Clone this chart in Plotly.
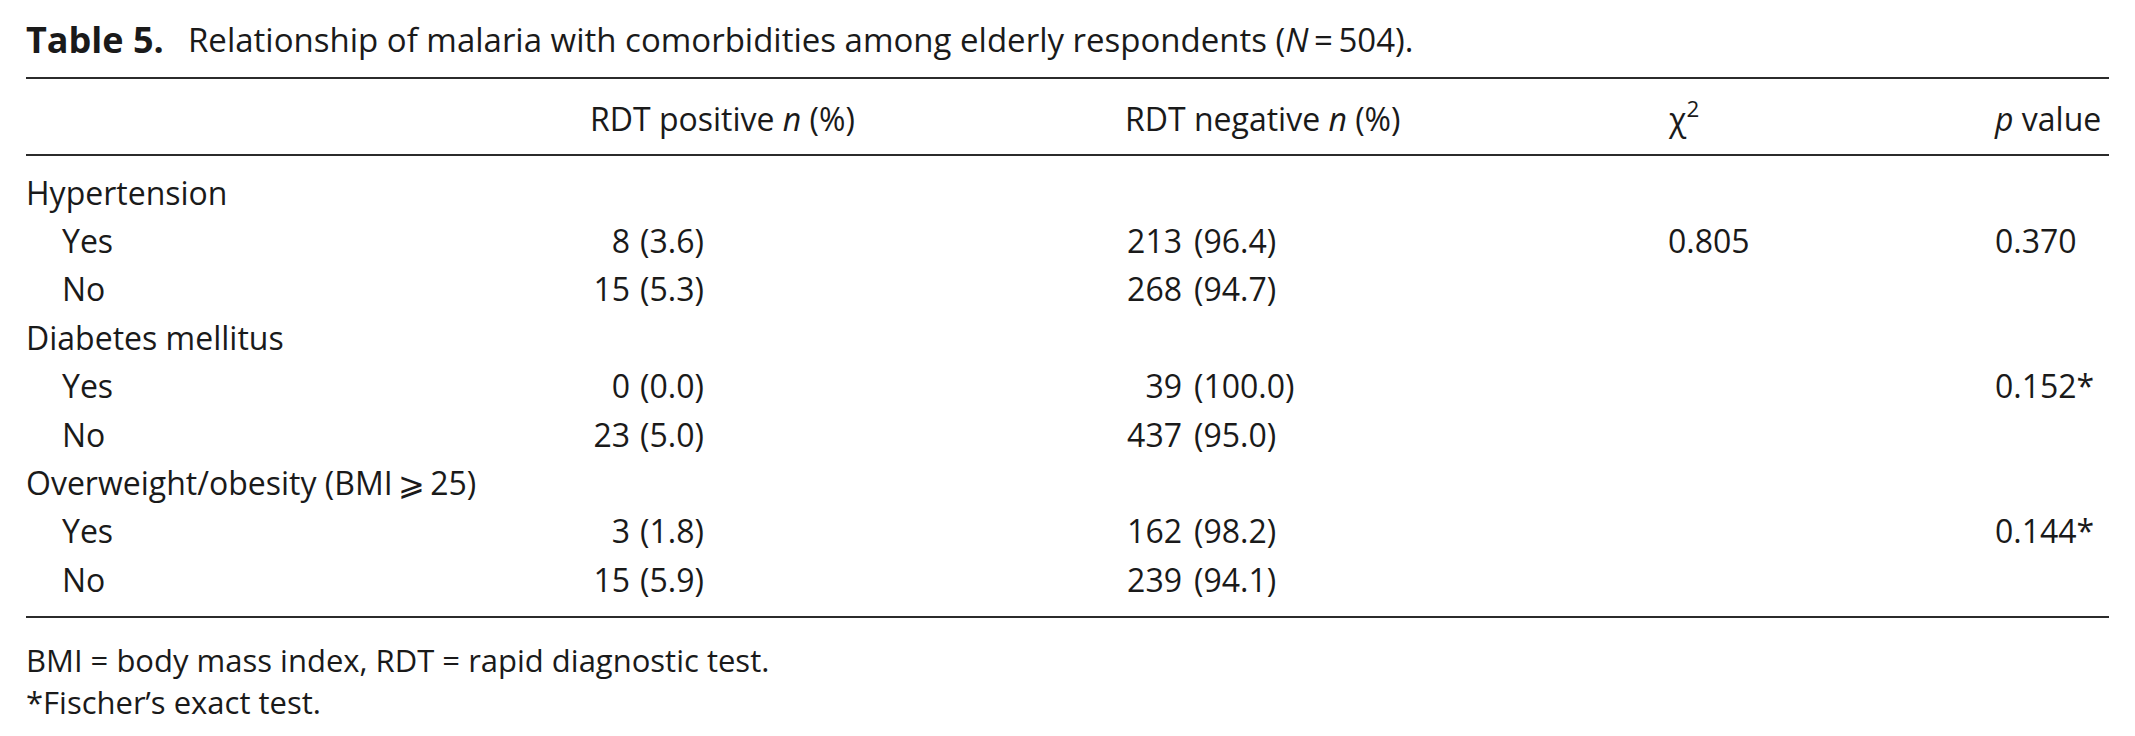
import plotly.graph_objects as go

# ---------------- data ----------------
title_label = "Table 5."
title_text = "Relationship of malaria with comorbidities among elderly respondents (<i>N</i>\u2009=\u2009504)."
headers = ["RDT positive <i>n</i> (%)", "RDT negative <i>n</i> (%)", "\u03c7<sup>2</sup>", "<i>p</i> value"]

groups = ["Hypertension", "Diabetes mellitus", "Overweight/obesity (BMI\u2009\u2a7e\u200925)"]
levels = ["Yes", "No"]

pos_n = [8, 15, 0, 23, 3, 15]
pos_pct = [3.6, 5.3, 0.0, 5.0, 1.8, 5.9]
neg_n = [213, 268, 39, 437, 162, 239]
neg_pct = [96.4, 94.7, 100.0, 95.0, 98.2, 94.1]
chi2 = ["0.805", "", "", "", "", ""]
p_values = ["0.370", "", "0.152*", "", "0.144*", ""]

footnotes = ["BMI = body mass index, RDT = rapid diagnostic test.", "*Fischer\u2019s exact test."]

# ---------------- layout constants ----------------
W, H = 2135, 736
FONT = "Open Sans"
FS = 32
INK = "#1a1a1a"
RULE = "#2b2b2b"
X_LEFT, X_RIGHT = 26, 2109
X_INDENT = 62
X_POS_N, X_POS_P = 630, 640
X_NEG_N, X_NEG_P = 1182, 1194
X_CHI, X_PV = 1668, 1995
HEAD_X = [590, 1125, 1669, 1995]
Y_TITLE = 43.5
Y_TOP_RULE, Y_HEAD, Y_HEAD_RULE = 78, 122.5, 155
Y_ROW0, PITCH = 196.5, 48.4
Y_BOTTOM_RULE = 617
Y_FOOT = [664, 706]

# build row table
row_labels, row_x, row_y = [], [], []
data_rows = []
r = 0
for g in groups:
    row_labels.append(g); row_x.append(X_LEFT); row_y.append(Y_ROW0 + PITCH * r); r += 1
    for lv in levels:
        row_labels.append(lv); row_x.append(X_INDENT); row_y.append(Y_ROW0 + PITCH * r)
        data_rows.append(Y_ROW0 + PITCH * r)
        r += 1

fig = go.Figure()

def text_trace(xs, ys, texts, pos, size=FS):
    keep = [(x, y, t) for x, y, t in zip(xs, ys, texts) if t != ""]
    fig.add_trace(go.Scatter(
        x=[k[0] for k in keep], y=[k[1] for k in keep], text=[k[2] for k in keep],
        mode="text", textposition=pos,
        textfont=dict(family=FONT, size=size, color=INK),
        hoverinfo="skip", showlegend=False, cliponaxis=False))

# title
text_trace([X_LEFT], [Y_TITLE], ["<b>" + title_label + "</b>"], "middle right", size=36)
text_trace([188], [Y_TITLE], [title_text], "middle right", size=33)

# header
text_trace(HEAD_X, [Y_HEAD] * 4, headers, "middle right")

# row labels
text_trace(row_x, row_y, row_labels, "middle right")

# values
text_trace([X_POS_N] * 6, data_rows, [str(v) for v in pos_n], "middle left")
text_trace([X_POS_P] * 6, data_rows, ["(%.1f)" % v for v in pos_pct], "middle right")
text_trace([X_NEG_N] * 6, data_rows, [str(v) for v in neg_n], "middle left")
text_trace([X_NEG_P] * 6, data_rows, ["(%.1f)" % v for v in neg_pct], "middle right")
text_trace([X_CHI] * 6, data_rows, chi2, "middle right")
text_trace([X_PV] * 6, data_rows, p_values, "middle right")

# footnotes
text_trace([X_LEFT] * 2, Y_FOOT, footnotes, "middle right", size=31)

# rules
for yy in (Y_TOP_RULE, Y_HEAD_RULE, Y_BOTTOM_RULE):
    fig.add_shape(type="line", xref="x", yref="y", x0=X_LEFT, x1=X_RIGHT, y0=yy, y1=yy,
                  line=dict(color=RULE, width=2.2))

fig.update_layout(
    width=W, height=H, margin=dict(l=0, r=0, t=0, b=0),
    paper_bgcolor="white", plot_bgcolor="white",
    xaxis=dict(range=[0, W], visible=False, fixedrange=True),
    yaxis=dict(range=[H, 0], visible=False, fixedrange=True),
)
fig.write_html("out.html", config={"displayModeBar": False},
               post_script="document.body.style.margin='0';document.body.style.overflow='hidden';")
